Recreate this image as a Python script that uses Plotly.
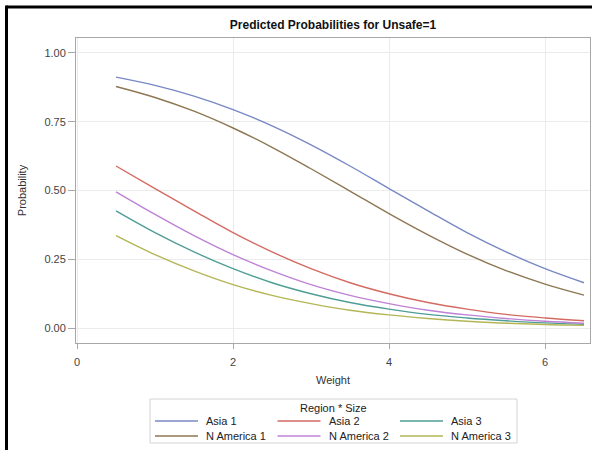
import plotly.graph_objects as go

weight = [0.5, 1.0, 1.5, 2.0, 2.5, 3.0, 3.5, 4.0, 4.5, 5.0, 5.5, 6.0, 6.5]

asia_1 = [0.912, 0.882, 0.843, 0.794, 0.735, 0.666, 0.589, 0.507, 0.426, 0.347, 0.277, 0.216, 0.165]
asia_2 = [0.589, 0.507, 0.426, 0.347, 0.277, 0.216, 0.165, 0.125, 0.093, 0.069, 0.050, 0.037, 0.027]
asia_3 = [0.426, 0.347, 0.277, 0.216, 0.165, 0.125, 0.093, 0.069, 0.050, 0.037, 0.027, 0.019, 0.014]
n_america_1 = [0.878, 0.838, 0.788, 0.727, 0.657, 0.579, 0.498, 0.416, 0.339, 0.269, 0.209, 0.160, 0.120]
n_america_2 = [0.495, 0.413, 0.336, 0.267, 0.208, 0.158, 0.119, 0.089, 0.065, 0.048, 0.035, 0.025, 0.018]
n_america_3 = [0.336, 0.267, 0.208, 0.158, 0.119, 0.089, 0.065, 0.048, 0.035, 0.025, 0.018, 0.013, 0.010]

series_names = ["Asia 1", "Asia 2", "Asia 3", "N America 1", "N America 2", "N America 3"]
series_values = [asia_1, asia_2, asia_3, n_america_1, n_america_2, n_america_3]
series_colors = ["#7888C4", "#D46A62", "#4F9E96", "#8E7753", "#BE82D6", "#B4B656"]

x_ticks = [0, 2, 4, 6]
y_ticks = [0.0, 0.25, 0.5, 0.75, 1.0]
y_tick_labels = ["0.00", "0.25", "0.50", "0.75", "1.00"]
legend_title = "Region * Size"

FONT = "Liberation Sans, Arial, sans-serif"

fig = go.Figure()
for name, vals, col in zip(series_names, series_values, series_colors):
    fig.add_trace(go.Scatter(
        x=weight, y=vals, name=name, mode="lines",
        line=dict(color=col, width=1.4, shape="spline"),
    ))

# plot area in pixels: left 76, right 590, top 38, bottom 343
L, R, T, B = 76, 2, 38, 107
W, H = 592, 450
pw = W - L - R
ph = H - T - B

def px_x(p):
    return (p - L) / pw

def px_y(p):
    return (H - B - p) / ph

fig.update_layout(
    width=W, height=H,
    margin=dict(l=L, r=R, t=T, b=B, autoexpand=False),
    paper_bgcolor="white", plot_bgcolor="white",
    font=dict(family=FONT, color="#333333", size=11),
    title=dict(text="<b>Predicted Probabilities for Unsafe=1</b>",
               x=333 / W, xanchor="center",
               y=1 - 25 / H, yanchor="middle",
               font=dict(size=12, color="#111111", family=FONT)),
    showlegend=False,
    xaxis=dict(
        range=[-0.013, 6.577], tickvals=x_ticks,
        showgrid=True, gridcolor="#ebebeb", gridwidth=1,
        zeroline=False, showline=True, linecolor="#a8a8a8", linewidth=1,
        mirror=True, ticks="outside", ticklen=5, tickcolor="#a8a8a8",
        ticklabelstandoff=4,
        tickfont=dict(size=11, color="#444444"),
        title=dict(text="Weight", font=dict(size=11, color="#333333"), standoff=9),
    ),
    yaxis=dict(
        range=[-0.054, 1.054], tickvals=y_ticks, ticktext=y_tick_labels,
        showgrid=True, gridcolor="#ebebeb", gridwidth=1,
        zeroline=False, showline=True, linecolor="#a8a8a8", linewidth=1,
        mirror=True, ticks="outside", ticklen=7, tickcolor="#a8a8a8",
        tickfont=dict(size=11, color="#444444"),
        title=dict(text="Probability", font=dict(size=11, color="#333333"), standoff=15),
    ),
)

# legend box (3 columns x 2 rows, like the SAS layout)
fig.add_shape(type="rect", xref="paper", yref="paper",
              x0=px_x(150), x1=px_x(517), y0=px_y(399), y1=px_y(443),
              line=dict(color="#d4d4d4", width=1), fillcolor="white", layer="above")
fig.add_annotation(text=legend_title, xref="paper", yref="paper",
                   x=px_x(333), y=px_y(407.5), xanchor="center", yanchor="middle",
                   showarrow=False, font=dict(size=11, color="#222222", family=FONT))
col_x = [155, 277.5, 400]
row_y = [421, 436]
for i, (name, col) in enumerate(zip(series_names, series_colors)):
    cx = col_x[i % 3]
    ry = row_y[i // 3]
    fig.add_shape(type="line", xref="paper", yref="paper",
                  x0=px_x(cx), x1=px_x(cx + 43), y0=px_y(ry), y1=px_y(ry),
                  line=dict(color=col, width=1.6), layer="above")
    fig.add_annotation(text=name, xref="paper", yref="paper",
                       x=px_x(cx + 49), y=px_y(ry), xanchor="left", yanchor="middle",
                       showarrow=False, font=dict(size=11, color="#222222", family=FONT))

# black frame visible along the top and left edges of the image
fig.add_shape(type="line", xref="paper", yref="paper",
              x0=px_x(6.5), x1=px_x(600), y0=px_y(7), y1=px_y(7),
              line=dict(color="black", width=3))
fig.add_shape(type="line", xref="paper", yref="paper",
              x0=px_x(6.5), x1=px_x(6.5), y0=px_y(5.5), y1=px_y(460),
              line=dict(color="black", width=3))

fig.write_html(
    "out.html",
    config={"displayModeBar": False},
    post_script="document.body.style.margin='0';document.body.style.overflow='hidden';",
)
